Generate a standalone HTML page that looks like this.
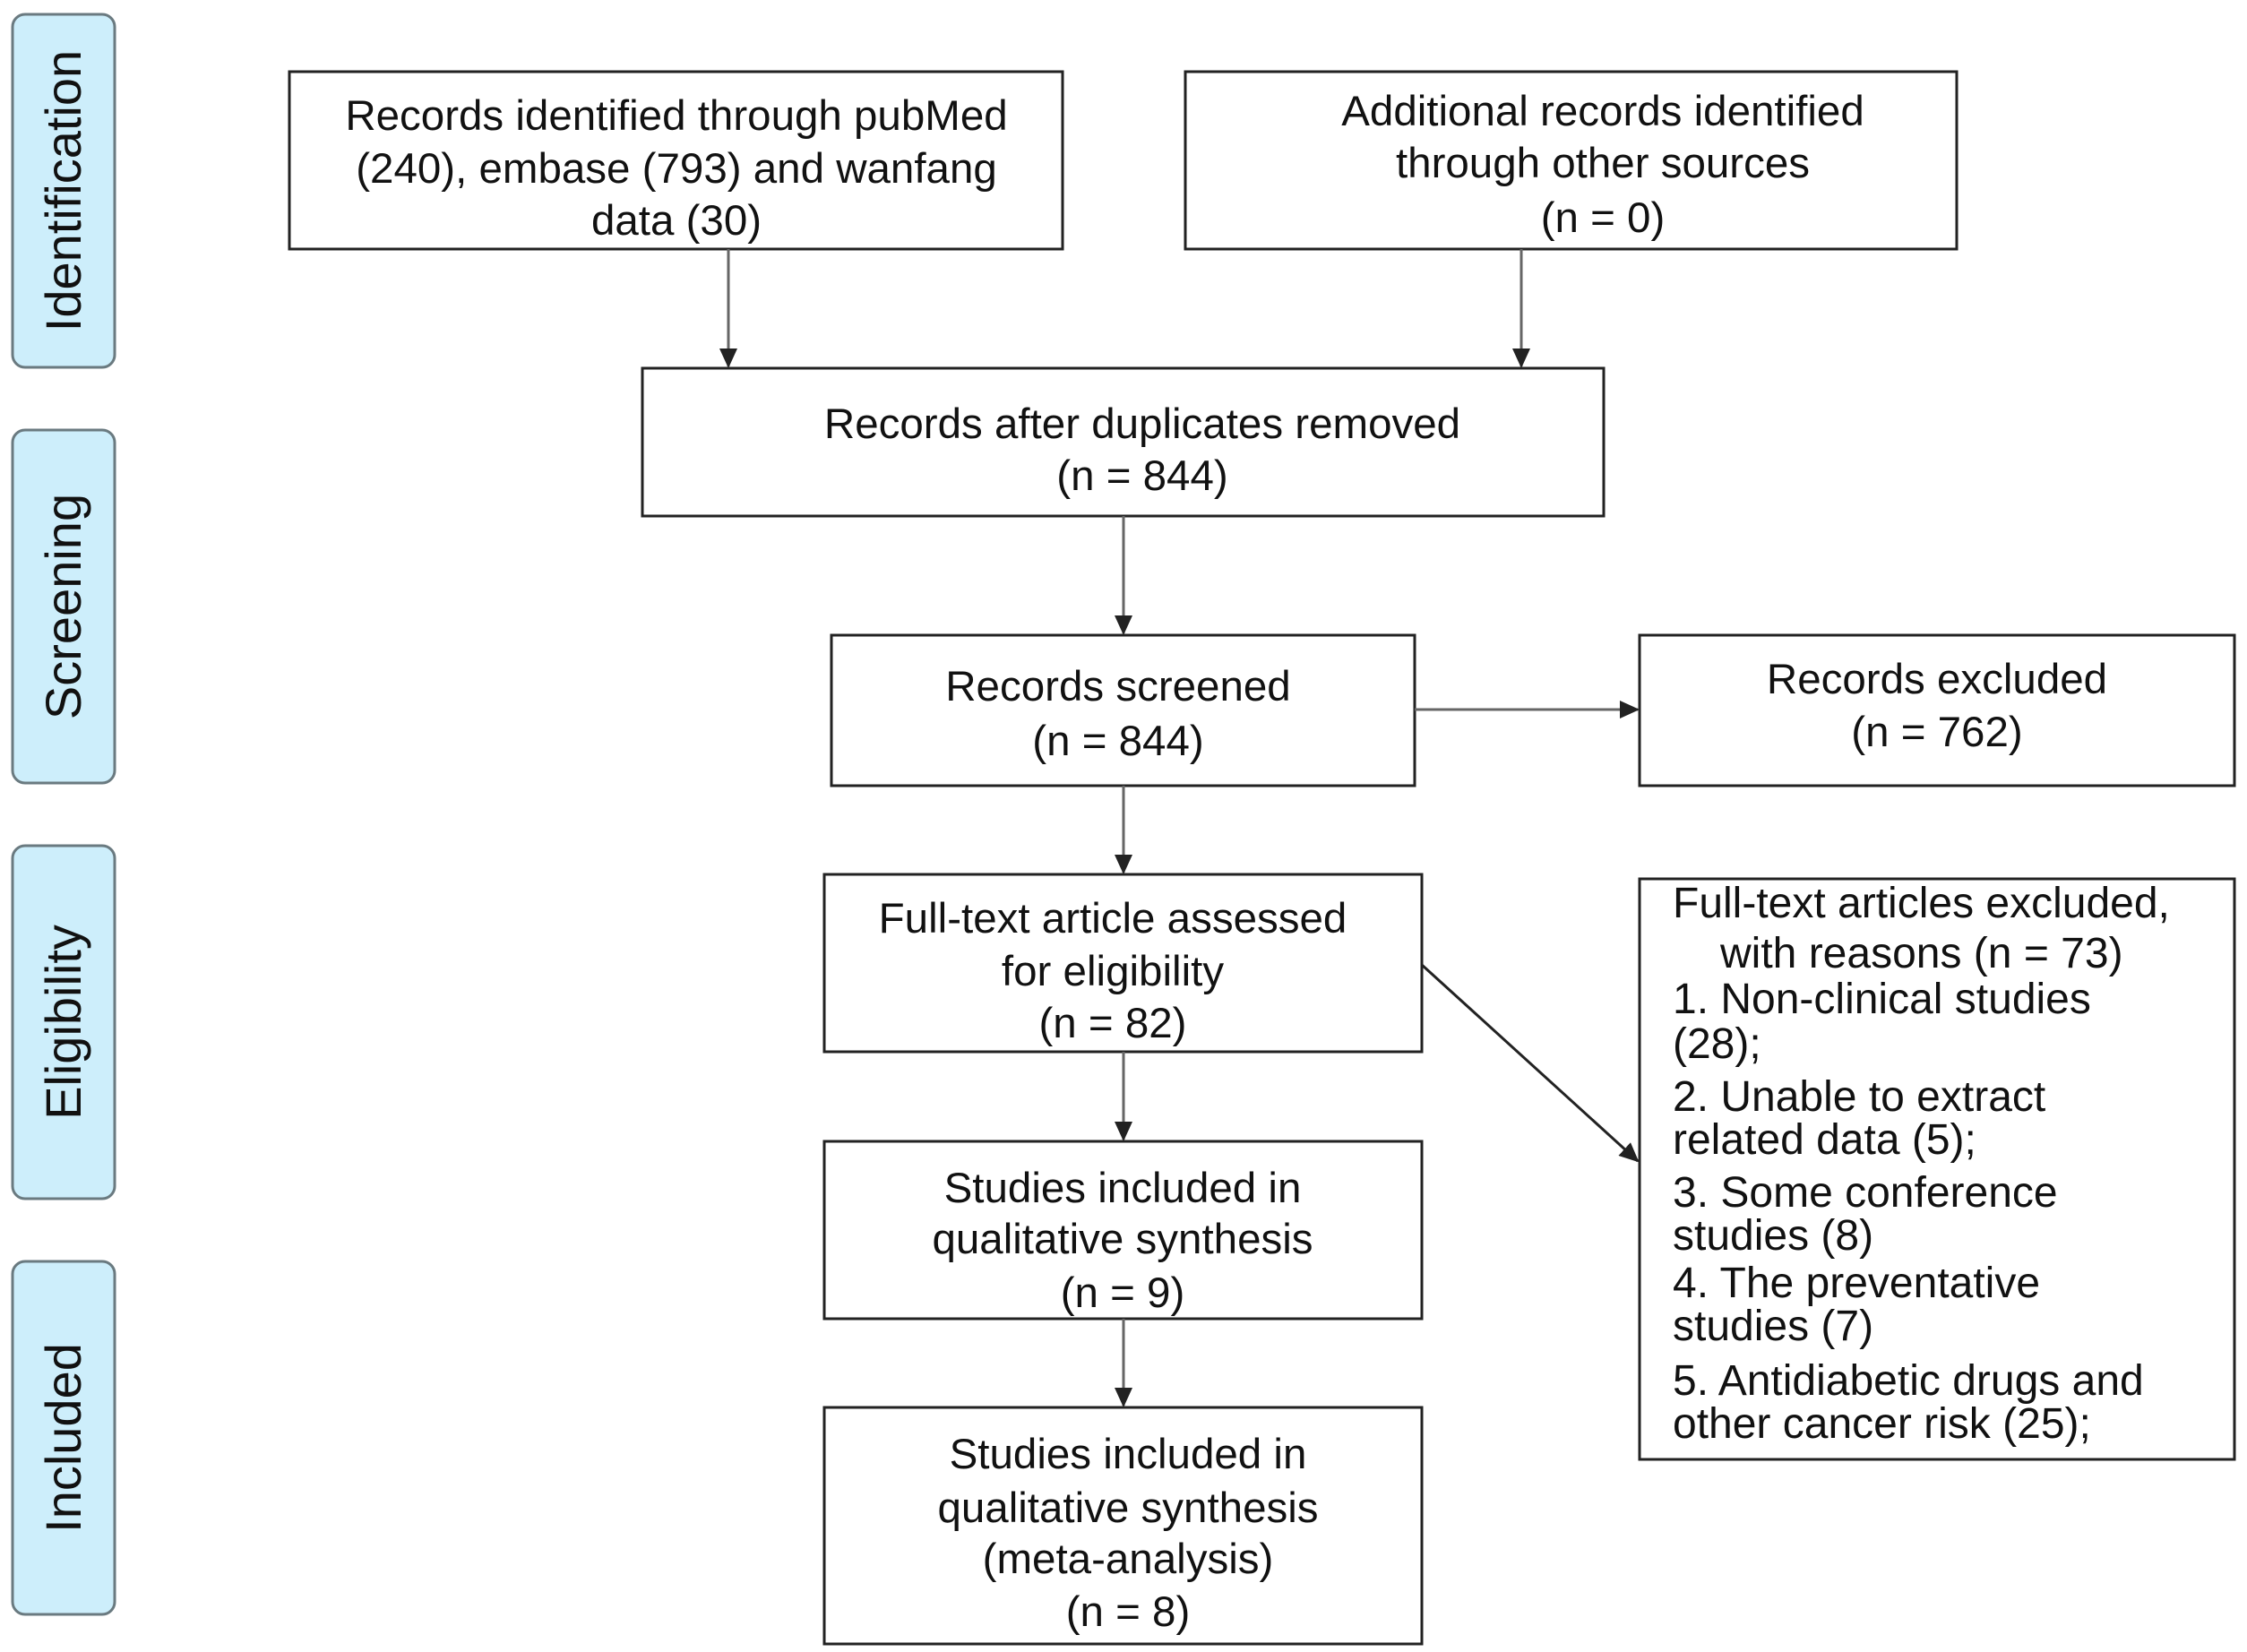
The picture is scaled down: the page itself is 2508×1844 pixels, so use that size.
<!DOCTYPE html>
<html><head><meta charset="utf-8"><style>
html,body{margin:0;padding:0;background:#fff;}
svg{display:block;}
text{font-family:"Liberation Sans",Arial,sans-serif;fill:#111;}
</style></head><body>
<svg width="2508" height="1844" viewBox="0 0 2508 1844" xmlns="http://www.w3.org/2000/svg">
<defs>
<marker id="ah2" markerWidth="22" markerHeight="20" refX="20" refY="10" orient="auto" markerUnits="userSpaceOnUse" viewBox="0 0 22 20">
<path d="M0,0 L22,10 L0,20 z" fill="#222"/></marker>
</defs>
<g fill="#cdeefb" stroke="#6a7a80" stroke-width="3">
<rect x="14" y="16" width="114" height="394" rx="14"/>
<rect x="14" y="480" width="114" height="394" rx="14"/>
<rect x="14" y="944" width="114" height="394" rx="14"/>
<rect x="14" y="1408" width="114" height="394" rx="14"/>
</g>
<g font-size="56" text-anchor="middle">
<text transform="translate(90,213) rotate(-90)">Identification</text>
<text transform="translate(90,677) rotate(-90)">Screening</text>
<text transform="translate(90,1141) rotate(-90)">Eligibility</text>
<text transform="translate(90,1605) rotate(-90)">Included</text>
</g>
<g fill="none" stroke="#222" stroke-width="3">
<rect x="323" y="80" width="863" height="198"/>
<rect x="1323" y="80" width="861" height="198"/>
<rect x="717" y="411" width="1073" height="165"/>
<rect x="928" y="709" width="651" height="168"/>
<rect x="1830" y="709" width="664" height="168"/>
<rect x="920" y="976" width="667" height="198"/>
<rect x="1830" y="981" width="664" height="648"/>
<rect x="920" y="1274" width="667" height="198"/>
<rect x="920" y="1571" width="667" height="264"/>
</g>
<g stroke="#666" stroke-width="3" fill="none">
<line x1="813" y1="278" x2="813" y2="409" marker-end="url(#ah2)"/>
<line x1="1698" y1="278" x2="1698" y2="409" marker-end="url(#ah2)"/>
<line x1="1254" y1="576" x2="1254" y2="707" marker-end="url(#ah2)"/>
<line x1="1254" y1="877" x2="1254" y2="974" marker-end="url(#ah2)"/>
<line x1="1254" y1="1174" x2="1254" y2="1272" marker-end="url(#ah2)"/>
<line x1="1254" y1="1472" x2="1254" y2="1569" marker-end="url(#ah2)"/>
<line x1="1579" y1="792" x2="1828" y2="792" marker-end="url(#ah2)"/>
<line x1="1587" y1="1077" x2="1828" y2="1296" stroke="#222" marker-end="url(#ah2)"/>
</g>
<g font-size="47.5" text-anchor="middle">
<text x="755" y="145">Records identified through pubMed</text>
<text x="755" y="204">(240), embase (793) and wanfang</text>
<text x="755" y="262">data (30)</text>
<text x="1789" y="140">Additional records identified</text>
<text x="1789" y="198">through other sources</text>
<text x="1789" y="259">(n = 0)</text>
<text x="1275" y="489">Records after duplicates removed</text>
<text x="1275" y="547">(n = 844)</text>
<text x="1248" y="782">Records screened</text>
<text x="1248" y="843">(n = 844)</text>
<text x="2162" y="774">Records excluded</text>
<text x="2162" y="833">(n = 762)</text>
<text x="1242" y="1041">Full-text article assessed</text>
<text x="1242" y="1100">for eligibility</text>
<text x="1242" y="1158">(n = 82)</text>
<text x="1253" y="1342">Studies included in</text>
<text x="1253" y="1399">qualitative synthesis</text>
<text x="1253" y="1459">(n = 9)</text>
<text x="1259" y="1639">Studies included in</text>
<text x="1259" y="1699">qualitative synthesis</text>
<text x="1259" y="1756">(meta-analysis)</text>
<text x="1259" y="1815">(n = 8)</text>
</g>
<g font-size="48">
<text x="1867" y="1024">Full-text articles excluded,</text>
<text x="1920" y="1080">with reasons (n = 73)</text>
<text x="1867" y="1131">1. Non-clinical studies</text>
<text x="1867" y="1181">(28);</text>
<text x="1867" y="1240">2. Unable to extract</text>
<text x="1867" y="1288">related data (5);</text>
<text x="1867" y="1347">3. Some conference</text>
<text x="1867" y="1395">studies (8)</text>
<text x="1867" y="1448">4. The preventative</text>
<text x="1867" y="1496">studies (7)</text>
<text x="1867" y="1557">5. Antidiabetic drugs and</text>
<text x="1867" y="1605">other cancer risk (25);</text>
</g>
</svg>
</body></html>
